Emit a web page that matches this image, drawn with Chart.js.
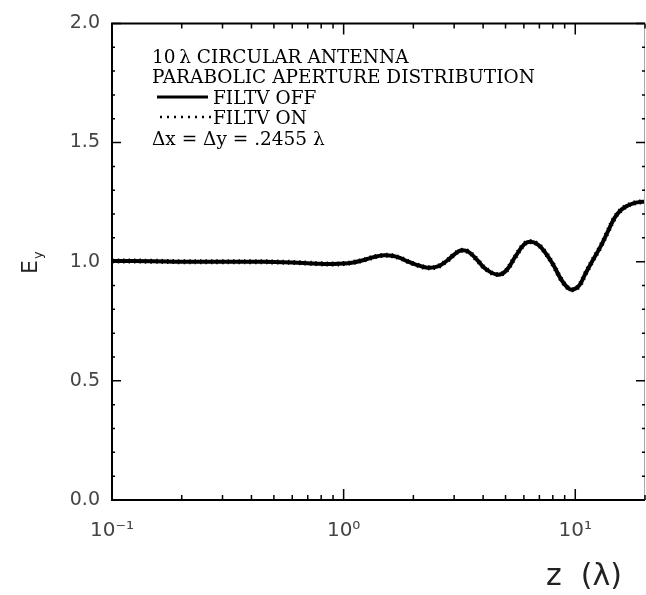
<!DOCTYPE html>
<html>
<head>
<meta charset="utf-8">
<script src="https://cdn.jsdelivr.net/npm/chart.js@4.4.1/dist/chart.umd.min.js"></script>
<style>
  html, body { margin: 0; padding: 0; background: #fff; }
</style>
</head>
<body>
<canvas id="fieldChart" width="646" height="595"></canvas>
<script>
// distance from the aperture, in wavelengths
let zValues = [0.1, 0.15, 0.2, 0.3, 0.4, 0.5, 0.6, 0.7, 0.8, 0.9, 1.0, 1.1, 1.2, 1.3, 1.4, 1.5, 1.62, 1.75, 1.9, 2.05,
               2.3, 2.55, 2.8, 3.0, 3.2, 3.45, 3.75, 4.1, 4.6, 5.0, 5.5, 6.0, 6.4, 6.9, 7.4, 8.0, 8.7, 9.3, 9.8, 10.4,
               11.0, 11.8, 12.8, 13.8, 14.8, 15.8, 16.8, 17.8, 18.8, 20];
// Ey with the filter switched off
let eyOff = [1.003, 1.002, 1.0, 1.0, 1.0, 0.999, 0.997, 0.994, 0.991, 0.99, 0.992, 0.997, 1.005, 1.015, 1.023, 1.027, 1.025, 1.016, 1.0, 0.988,
             0.975, 0.98, 1.005, 1.03, 1.047, 1.042, 1.01, 0.97, 0.946, 0.96, 1.02, 1.072, 1.084, 1.072, 1.04, 0.99, 0.925, 0.89, 0.883, 0.9,
             0.945, 1.0, 1.06, 1.125, 1.185, 1.218, 1.235, 1.245, 1.25, 1.252];
// Ey with the filter on (lies on top of the other curve)
let eyOn = [1.003, 1.002, 1.0, 1.0, 1.0, 0.999, 0.997, 0.994, 0.991, 0.99, 0.992, 0.997, 1.005, 1.015, 1.023, 1.027, 1.025, 1.016, 1.0, 0.988,
            0.975, 0.98, 1.005, 1.03, 1.047, 1.042, 1.01, 0.97, 0.946, 0.96, 1.02, 1.072, 1.084, 1.072, 1.04, 0.99, 0.925, 0.89, 0.883, 0.9,
            0.945, 1.0, 1.06, 1.125, 1.185, 1.218, 1.235, 1.245, 1.25, 1.252];

let xTickValues = [0.1, 1, 10];
let xTickLabels = ['10\u207B\u00B9', '10\u2070', '10\u00B9'];
let xMinorTicks = [0.2, 0.3, 0.4, 0.5, 0.6, 0.7, 0.8, 0.9, 2, 3, 4, 5, 6, 7, 8, 9, 20];
let yTickValues = [0, 0.5, 1.0, 1.5, 2.0];
let yMinorTicks = [0.1, 0.2, 0.3, 0.4, 0.6, 0.7, 0.8, 0.9, 1.1, 1.2, 1.3, 1.4, 1.6, 1.7, 1.8, 1.9];

let legendLines = ['10\u2009\u03BB CIRCULAR ANTENNA', 'PARABOLIC APERTURE DISTRIBUTION'];
let seriesNames = ['FILTV OFF', 'FILTV ON'];
let gridNote = '\u0394x = \u0394y = .2455 \u03BB';

const toPoints = (ys) => zValues.map((z, i) => ({ x: z, y: ys[i] }));

// box, inward tick marks, legend text and axis titles
const decorations = {
  id: 'decorations',
  afterDraw(chart) {
    const ctx = chart.ctx, a = chart.chartArea;
    const xs = chart.scales.x, ys = chart.scales.y;
    ctx.save();
    ctx.strokeStyle = '#000';
    ctx.lineWidth = 2;
    ctx.beginPath();
    ctx.moveTo(a.right, a.top);
    ctx.lineTo(a.left, a.top);
    ctx.lineTo(a.left, a.bottom);
    ctx.lineTo(a.right, a.bottom);
    ctx.stroke();
    ctx.lineWidth = 1;
    ctx.strokeStyle = '#aaa';
    ctx.beginPath();
    ctx.moveTo(a.right - 0.5, a.top);
    ctx.lineTo(a.right - 0.5, a.bottom);
    ctx.stroke();

    ctx.strokeStyle = '#000';
    ctx.lineWidth = 1.5;
    const xTick = (v, len) => {
      const px = xs.getPixelForValue(v);
      ctx.beginPath();
      ctx.moveTo(px, a.bottom); ctx.lineTo(px, a.bottom - len);
      ctx.moveTo(px, a.top); ctx.lineTo(px, a.top + len);
      ctx.stroke();
    };
    const yTick = (v, len) => {
      const py = ys.getPixelForValue(v);
      ctx.beginPath();
      ctx.moveTo(a.left, py); ctx.lineTo(a.left + len, py);
      ctx.moveTo(a.right, py); ctx.lineTo(a.right - len, py);
      ctx.stroke();
    };
    xTickValues.forEach(v => xTick(v, 11));
    xMinorTicks.forEach(v => xTick(v, 5));
    yTickValues.forEach(v => yTick(v, 9));
    yMinorTicks.forEach(v => yTick(v, 3));

    // legend block
    ctx.fillStyle = '#000';
    ctx.font = '18.5px "DejaVu Serif"';
    ctx.textBaseline = 'alphabetic';
    ctx.textAlign = 'left';
    ctx.fillText(legendLines[0], 152, 63);
    ctx.fillText(legendLines[1], 152, 83);
    ctx.fillText(seriesNames[0], 213, 104);
    ctx.fillText(seriesNames[1], 213, 124);
    ctx.fillText(gridNote, 152, 145);
    ctx.lineWidth = 3;
    ctx.beginPath();
    ctx.moveTo(157, 97); ctx.lineTo(208, 97);
    ctx.stroke();
    ctx.lineWidth = 2.5;
    ctx.setLineDash([2, 5]);
    ctx.beginPath();
    ctx.moveTo(160, 117); ctx.lineTo(213, 117);
    ctx.stroke();
    ctx.setLineDash([]);

    // axis titles
    ctx.fillStyle = '#222';
    ctx.font = '30px "DejaVu Sans"';
    ctx.fillText('z  (\u03BB)', 546, 585);

    ctx.translate(37, 274);
    ctx.rotate(-Math.PI / 2);
    ctx.font = '22px "DejaVu Sans"';
    ctx.fillText('E', 0, 0);
    const w = ctx.measureText('E').width;
    ctx.font = '13px "DejaVu Sans"';
    ctx.fillText('y', w + 1, 5);
    ctx.restore();
  }
};

const chart = new Chart(document.getElementById('fieldChart').getContext('2d'), {
  type: 'line',
  data: {
    datasets: [
      {
        label: seriesNames[0],
        data: toPoints(eyOff),
        borderColor: '#000',
        borderWidth: 4,
        pointRadius: 0,
        tension: 0.4,
        fill: false
      },
      {
        label: seriesNames[1],
        data: toPoints(eyOn),
        borderColor: '#000',
        borderWidth: 5,
        borderDash: [1.5, 4],
        pointRadius: 0,
        tension: 0.4,
        fill: false
      }
    ]
  },
  options: {
    responsive: false,
    animation: false,
    devicePixelRatio: 1,
    layout: { padding: { left: 0, right: 1, top: 20, bottom: 0 } },
    plugins: {
      legend: { display: false },
      tooltip: { enabled: false }
    },
    scales: {
      x: {
        type: 'logarithmic',
        min: 0.1,
        max: 20,
        afterBuildTicks: (s) => { s.ticks = xTickValues.map(v => ({ value: v })); },
        afterFit: (s) => { s.height = 95; },
        grid: { display: false, drawTicks: false },
        border: { display: false },
        ticks: {
          autoSkip: false,
          maxRotation: 0,
          padding: 19,
          color: '#444',
          font: { family: 'DejaVu Sans', size: 20 },
          callback: (v, i) => xTickLabels[i]
        }
      },
      y: {
        type: 'linear',
        min: 0,
        max: 2,
        afterBuildTicks: (s) => { s.ticks = yTickValues.map(v => ({ value: v })); },
        afterFit: (s) => { s.width = 112; },
        grid: { display: false, drawTicks: false },
        border: { display: false },
        ticks: {
          padding: 12,
          color: '#444',
          font: { family: 'DejaVu Sans', size: 19 },
          callback: (v) => v.toFixed(1)
        }
      }
    }
  },
  plugins: [decorations]
});
</script>
</body>
</html>
